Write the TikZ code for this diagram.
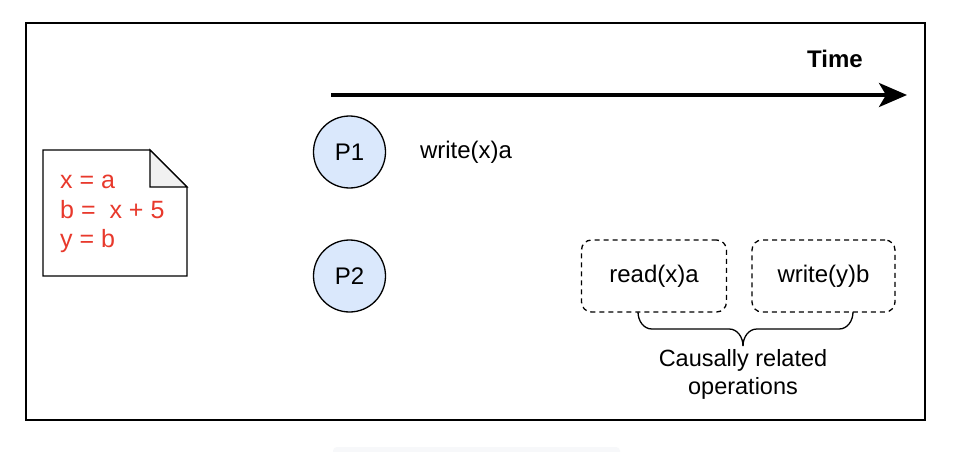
\documentclass[tikz,border=0pt]{standalone}
\usepackage{fontspec}
\setmainfont{Liberation Sans}
\usetikzlibrary{arrows.meta}
\definecolor{procfill}{HTML}{DAE8FC}
\definecolor{codered}{RGB}{232,57,44}
\definecolor{foldgray}{HTML}{F1F1F1}
\definecolor{faint}{HTML}{F7F8FA}
\begin{document}
\begin{tikzpicture}[x=1pt,y=-1pt,
  lbl/.style={inner sep=0pt, font=\fontsize{24}{28}\selectfont},
  proc/.style={circle, draw=black, line width=1.3pt, fill=procfill, minimum size=72pt, inner sep=0pt, font=\fontsize{24}{28}\selectfont},
  opbox/.style={draw=black, dash pattern=on 5pt off 4pt, line width=1.3pt, rounded corners=10pt, inner sep=0pt, font=\fontsize{24}{28}\selectfont},
]
\useasboundingbox (0,0) rectangle (970,452);
\fill[white] (0,0) rectangle (970,452);
% faint strip at the bottom
\fill[faint, rounded corners=4pt] (333,447) rectangle (620,458);
% frame
\draw[line width=2pt] (26,23) rectangle (925,420);
% time arrow
\coordinate (tstart) at (331,95);
\coordinate (tend) at (907,95);
\draw[line width=3.5pt, -{Stealth[length=28pt,width=24pt,inset=7pt]}] (tstart) -- (tend);
\node[lbl, font=\fontsize{24}{28}\selectfont\bfseries] (time) at (835,59) {Time};
% document
\draw[line width=1.3pt, fill=white] (43,150) -- (150,150) -- (187,187) -- (187,276) -- (43,276) -- cycle;
\draw[line width=1.3pt, fill=foldgray, line join=miter] (150,150) -- (150,187) -- (187,187) -- cycle;
\node[lbl, anchor=west, align=left, text=codered, font=\fontsize{25}{29.5}\selectfont] (code) at (60,214) {x = a\\b =\ \ x + 5\\y = b};
% processes
\node[proc] (p1) at (349.5,152) {P1};
\node[proc] (p2) at (349.5,276) {P2};
\node[lbl] (w1) at (466,152) {write(x)a};
% operations
\node[opbox, minimum width=145pt, minimum height=72pt] (r1) at (654,276) {read(x)a};
\node[opbox, minimum width=143pt, minimum height=72pt] (w2) at (823.5,276) {write(y)b};
% brace
\coordinate (bl) at (638,312);
\coordinate (br) at (853,312);
\coordinate (btip) at (743,346);
\draw[line width=1.3pt] (bl) to[out=-90,in=180] (652,329) -- (729,329) to[out=0,in=90] (btip);
\draw[line width=1.3pt] (btip) to[out=90,in=180] (757,329) -- (839,329) to[out=0,in=-90] (br);
\node[lbl, align=center, font=\fontsize{23.5}{28}\selectfont] (caus) at (743,374) {Causally related\\operations};
\end{tikzpicture}
\end{document}
